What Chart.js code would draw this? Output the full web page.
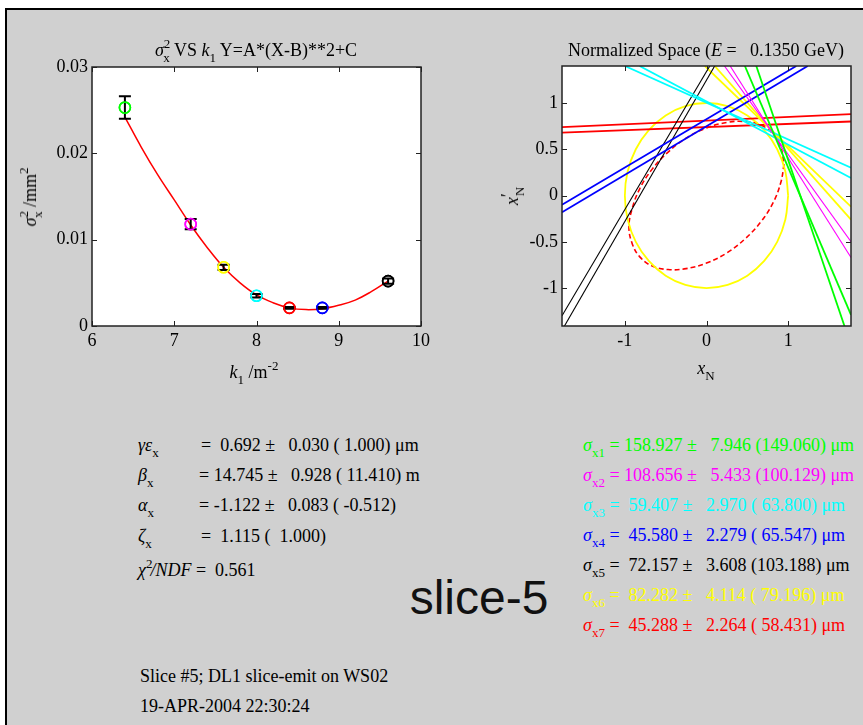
<!DOCTYPE html>
<html lang="en">
<head>
  <meta charset="UTF-8" />
  <title>Slice emittance fit</title>
  <script src="https://cdn.jsdelivr.net/npm/chart.js@4.4.1/dist/chart.umd.min.js"></script>
  <style>
    html, body {
      margin: 0;
      padding: 0;
      background: #fff;
    }

    body {
      width: 863px;
      height: 725px;
      position: relative;
      overflow: hidden;
      font-family: 'Liberation Serif', 'Times New Roman', serif;
      font-size: 18px;
      color: #000;
    }

    .panel {
      position: absolute;
      left: 5px;
      top: 8px;
      width: 860px;
      height: 720px;
      background: #d0d0d0;
      border-left: 2px solid #000;
      border-top: 2px solid #000;
    }

    canvas {
      position: absolute;
    }

    .txt {
      position: absolute;
      white-space: pre;
      line-height: 1;
    }

    .c {
      transform: translate(-50%, -50%);
    }

    .rot {
      transform: translate(-50%, -50%) rotate(-90deg);
    }

    .txt sub,
    .txt sup,
    .row sub,
    .row sup {
      font-size: 13px;
      line-height: 0;
    }

    .txt sub,
    .row sub {
      vertical-align: -6px;
    }

    .txt sup,
    .row sup {
      vertical-align: 8px;
    }

    .row {
      position: absolute;
      white-space: pre;
      line-height: 1;
      transform: translateY(-50%);
    }

    .big {
      position: absolute;
      font-family: 'Liberation Sans', Arial, sans-serif;
      font-size: 48px;
      color: #111;
      transform: translate(-50%, -50%);
      line-height: 1;
    }
  </style>
</head>

<body>
  <div class="panel"></div>

  <canvas id="fitChart" width="420" height="360" style="left:30px;top:40px"></canvas>
  <canvas id="phaseChart" width="363" height="360" style="left:500px;top:40px"></canvas>

  <!-- titles and axis labels -->
  <div class="txt c" style="left:256px;top:50px"><i>σ</i><sup>2</sup><sub style="margin-left:-7px">x</sub> VS <i>k</i><sub>1</sub> Y=A*(X-B)**2+C</div>
  <div class="txt rot" style="left:30px;top:197px"><i>σ</i><sup>2</sup><sub style="margin-left:-7px">x</sub> /mm<sup>2</sup></div>
  <div class="txt c" style="left:254px;top:372px"><i>k</i><sub>1</sub> /m<sup>-2</sup></div>

  <div class="txt c" style="left:706px;top:50px">Normalized Space (<i>E</i> =   0.1350 GeV)</div>
  <div class="txt rot" style="left:512px;top:196px"><i>x</i><sup style="font-size:18px;vertical-align:4px">′</sup><sub style="margin-left:-3px">N</sub></div>
  <div class="txt c" style="left:706px;top:368px"><i>x</i><sub>N</sub></div>

  <!-- fit results -->
  <div class="row" style="left:138px;top:445px"><i>γε</i><sub>x</sub></div>
  <div class="row" style="left:201px;top:445px">=  0.692 ±   0.030 ( 1.000) μm</div>
  <div class="row" style="left:138px;top:475px"><i>β</i><sub>x</sub></div>
  <div class="row" style="left:199px;top:475px">= 14.745 ±   0.928 ( 11.410) m</div>
  <div class="row" style="left:138px;top:505px"><i>α</i><sub>x</sub></div>
  <div class="row" style="left:199px;top:505px">= -1.122 ±   0.083 ( -0.512)</div>
  <div class="row" style="left:138px;top:536px"><i>ζ</i><sub>x</sub></div>
  <div class="row" style="left:201px;top:536px">=  1.115 (  1.000)</div>
  <div class="row" style="left:138px;top:570px"><i>χ</i><sup style="margin-right:-2px">2</sup><i>/NDF</i> =  0.561</div>

  <div class="big" style="left:479px;top:598px">slice-5</div>

  <div class="row" style="left:583px;top:445px;color:#00ff00"><i>σ</i><sub>x1</sub> = 158.927 ±   7.946 (149.060) μm</div>
  <div class="row" style="left:583px;top:475px;color:#ff00ff"><i>σ</i><sub>x2</sub> = 108.656 ±   5.433 (100.129) μm</div>
  <div class="row" style="left:583px;top:505px;color:#00ffff"><i>σ</i><sub>x3</sub> =  59.407 ±   2.970 ( 63.800) μm</div>
  <div class="row" style="left:583px;top:535px;color:#0000ff"><i>σ</i><sub>x4</sub> =  45.580 ±   2.279 ( 65.547) μm</div>
  <div class="row" style="left:583px;top:565px;color:#000000"><i>σ</i><sub>x5</sub> =  72.157 ±   3.608 (103.188) μm</div>
  <div class="row" style="left:583px;top:595px;color:#ffff00"><i>σ</i><sub>x6</sub> =  82.282 ±   4.114 ( 79.196) μm</div>
  <div class="row" style="left:583px;top:625px;color:#ff0000"><i>σ</i><sub>x7</sub> =  45.288 ±   2.264 ( 58.431) μm</div>

  <div class="row" style="left:140px;top:676px">Slice #5; DL1 slice-emit on WS02</div>
  <div class="row" style="left:140px;top:706px">19-APR-2004 22:30:24</div>

  <script>
    // left plot: beam size squared vs quad strength
    const kValues = [6.4, 7.2, 7.6, 8.0, 8.4, 8.8, 9.6];
    const sigmaSq = [0.0253, 0.0118, 0.0068, 0.0035, 0.0021, 0.0021, 0.0052];
    const sigmaSqErr = [0.0013, 0.0006, 0.0003, 0.0002, 0.0001, 0.0001, 0.0003];
    const pointColors = ['#00ff00', '#ff00ff', '#ffff00', '#00ffff', '#ff0000', '#0000ff', '#000000'];
    const fitK = [6.4, 6.6, 6.8, 7.0, 7.2, 7.4, 7.6, 7.8, 8.0, 8.2, 8.4, 8.6, 8.8, 9.0, 9.2, 9.4, 9.6];
    const fitSigmaSq = [0.0242, 0.0207, 0.0175, 0.0146, 0.0117, 0.0091, 0.0068, 0.0050, 0.0036, 0.0027, 0.0021,
      0.0019, 0.0020, 0.0024, 0.0030, 0.0040, 0.0052];
    const kTicks = [6, 7, 8, 9, 10];
    const sigmaTicks = [0, 0.01, 0.02, 0.03];

    // right plot: normalized phase space
    const xnTicks = [-1, 0, 1];
    const xpnTicks = [-1, -0.5, 0, 0.5, 1];
    const wireColors = ['#00ff00', '#00ff00', '#ff00ff', '#ff00ff', '#00ffff', '#00ffff', '#0000ff', '#0000ff',
      '#000000', '#000000', '#ffff00', '#ffff00', '#ff0000', '#ff0000'];
    const lineStartX = [0.47, 0.61, 0.22, 0.29, -1.00, -0.82, -1.77, -1.77, -1.77, -1.74, -0.02, 0.10, -1.77, -1.77];
    const lineStartY = [1.40, 1.40, 1.40, 1.40, 1.40, 1.40, -0.10, -0.18, -1.30, -1.41, 1.40, 1.40, 0.74, 0.68];
    const lineEndX = [1.77, 1.69, 1.77, 1.77, 1.77, 1.77, 1.10, 1.24, 0.04, 0.10, 1.77, 1.77, 1.77, 1.77];
    const lineEndY = [-1.29, -1.41, -0.50, -0.67, 0.30, 0.19, 1.40, 1.40, 1.40, 1.40, -0.12, -0.26, 0.88, 0.80];
    const designX = [1, 0.966, 0.866, 0.707, 0.5, 0.259, 0, -0.259, -0.5, -0.707, -0.866, -0.966, -1,
      -0.966, -0.866, -0.707, -0.5, -0.259, 0, 0.259, 0.5, 0.707, 0.866, 0.966, 1];
    const designY = [0, 0.259, 0.5, 0.707, 0.866, 0.966, 1, 0.966, 0.866, 0.707, 0.5, 0.259, 0,
      -0.259, -0.5, -0.707, -0.866, -0.966, -1, -0.966, -0.866, -0.707, -0.5, -0.259, 0];
    const measX = [0.95, 0.91, 0.82, 0.67, 0.47, 0.25, 0, -0.25, -0.47, -0.67, -0.82, -0.91, -0.95,
      -0.91, -0.82, -0.67, -0.47, -0.25, 0, 0.25, 0.47, 0.67, 0.82, 0.91, 0.95];
    const measY = [0.34, 0.14, -0.07, -0.28, -0.47, -0.62, -0.73, -0.79, -0.80, -0.76, -0.66, -0.52, -0.34,
      -0.14, 0.07, 0.28, 0.47, 0.62, 0.73, 0.79, 0.80, 0.76, 0.66, 0.52, 0.34];

    const serif = 'Liberation Serif';

    // white plot area, box and inward ticks like the original
    const boxPlugin = {
      id: 'boxPlugin',
      beforeDraw(chart) {
        const { ctx, chartArea: a } = chart;
        ctx.save();
        ctx.fillStyle = '#fff';
        ctx.fillRect(a.left, a.top, a.right - a.left, a.bottom - a.top);
        ctx.restore();
      },
      afterDraw(chart) {
        const { ctx, chartArea: a, scales } = chart;
        ctx.save();
        ctx.strokeStyle = '#222';
        ctx.lineWidth = 1.5;
        ctx.strokeRect(a.left, a.top, a.right - a.left, a.bottom - a.top);
        ctx.lineWidth = 1;
        ctx.beginPath();
        scales.x.ticks.forEach(t => {
          const px = Math.round(scales.x.getPixelForValue(t.value)) + 0.5;
          ctx.moveTo(px, a.bottom); ctx.lineTo(px, a.bottom - 5);
          ctx.moveTo(px, a.top); ctx.lineTo(px, a.top + 5);
        });
        scales.y.ticks.forEach(t => {
          const py = Math.round(scales.y.getPixelForValue(t.value)) + 0.5;
          ctx.moveTo(a.left, py); ctx.lineTo(a.left + 5, py);
          ctx.moveTo(a.right, py); ctx.lineTo(a.right - 5, py);
        });
        ctx.stroke();
        ctx.restore();
      }
    };

    const errorBars = {
      id: 'errorBars',
      afterDatasetsDraw(chart) {
        const { ctx, scales } = chart;
        ctx.save();
        ctx.strokeStyle = '#000';
        ctx.lineWidth = 2;
        kValues.forEach((k, i) => {
          const px = scales.x.getPixelForValue(k);
          const top = scales.y.getPixelForValue(sigmaSq[i] + sigmaSqErr[i]);
          const bot = scales.y.getPixelForValue(sigmaSq[i] - sigmaSqErr[i]);
          ctx.beginPath();
          ctx.moveTo(px, top); ctx.lineTo(px, bot);
          ctx.moveTo(px - 6, top); ctx.lineTo(px + 6, top);
          ctx.moveTo(px - 6, bot); ctx.lineTo(px + 6, bot);
          ctx.stroke();
        });
        // redraw markers on top of the bars
        const meta = chart.getDatasetMeta(1);
        meta.data.forEach(el => el.draw(ctx));
        ctx.restore();
      }
    };

    function axis(min, max, tickList, size, fmt) {
      return {
        type: 'linear',
        min: min,
        max: max,
        afterBuildTicks: s => { s.ticks = tickList.map(v => ({ value: v })); },
        afterFit: size,
        grid: { display: false, drawTicks: false },
        border: { display: false },
        ticks: {
          color: '#000',
          font: { family: serif, size: 18 },
          padding: 4,
          autoSkip: false,
          maxRotation: 0,
          callback: fmt
        }
      };
    }

    new Chart(document.getElementById('fitChart'), {
      type: 'scatter',
      data: {
        datasets: [{
          data: fitK.map((k, i) => ({ x: k, y: fitSigmaSq[i] })),
          showLine: true,
          borderColor: '#ff0000',
          borderWidth: 1.5,
          pointRadius: 0,
          tension: 0.4
        }, {
          data: kValues.map((k, i) => ({ x: k, y: sigmaSq[i] })),
          pointStyle: 'circle',
          pointRadius: 5.5,
          pointBorderWidth: 1.6,
          pointBorderColor: pointColors,
          pointBackgroundColor: 'rgba(0,0,0,0)'
        }]
      },
      options: {
        responsive: false,
        animation: false,
        devicePixelRatio: 1,
        layout: { padding: { left: 0, top: 27, right: 29, bottom: 0 } },
        plugins: { legend: { display: false }, tooltip: { enabled: false } },
        scales: {
          x: axis(6, 10, kTicks, s => { s.height = 74; }, v => String(v)),
          y: axis(0, 0.03, sigmaTicks, s => { s.width = 62; }, v => (v === 0 ? '0' : v.toFixed(2)))
        }
      },
      plugins: [boxPlugin, errorBars]
    });

    const phaseSets = wireColors.map((c, i) => ({
      data: [{ x: lineStartX[i], y: lineStartY[i] }, { x: lineEndX[i], y: lineEndY[i] }],
      showLine: true,
      borderColor: c,
      borderWidth: c === '#000000' || c === '#ff00ff' ? 1.1 : 1.8,
      pointRadius: 0
    }));
    phaseSets.push({
      data: designX.map((x, i) => ({ x: x, y: designY[i] })),
      showLine: true,
      borderColor: '#ffff00',
      borderWidth: 1.8,
      pointRadius: 0,
      tension: 0.4
    });
    phaseSets.push({
      data: measX.map((x, i) => ({ x: x, y: measY[i] })),
      showLine: true,
      borderColor: '#ff0000',
      borderWidth: 1.6,
      borderDash: [5, 3],
      pointRadius: 0,
      tension: 0.4
    });

    new Chart(document.getElementById('phaseChart'), {
      type: 'scatter',
      data: { datasets: phaseSets },
      options: {
        responsive: false,
        animation: false,
        devicePixelRatio: 1,
        layout: { padding: { left: 0, top: 26, right: 12, bottom: 0 } },
        plugins: { legend: { display: false }, tooltip: { enabled: false } },
        scales: {
          x: axis(-1.77, 1.77, xnTicks, s => { s.height = 74; }, v => String(v)),
          y: axis(-1.41, 1.40, xpnTicks, s => { s.width = 62; }, v => String(v))
        }
      },
      plugins: [boxPlugin]
    });
  </script>
</body>
</html>
